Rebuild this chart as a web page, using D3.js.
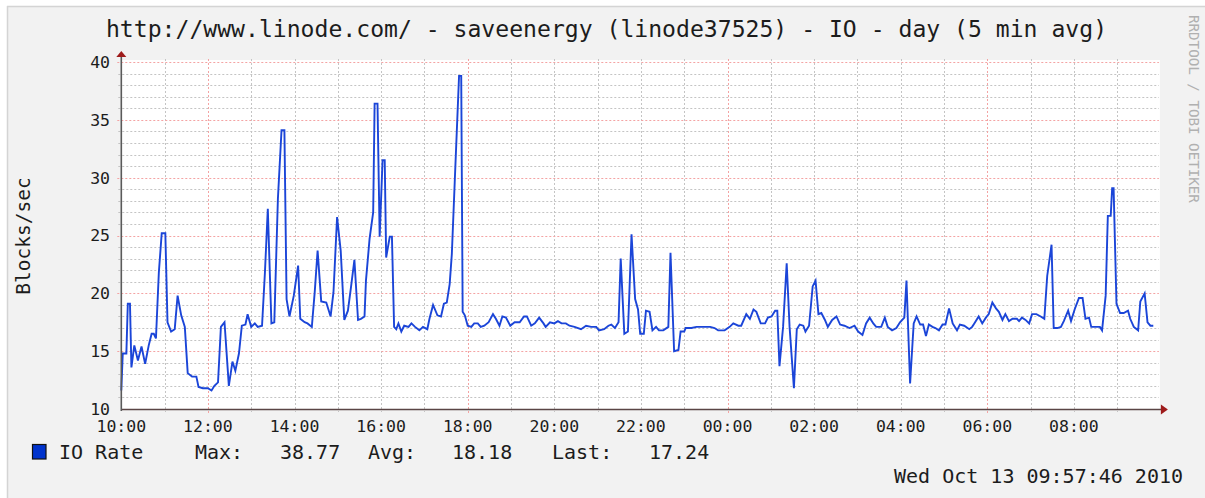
<!DOCTYPE html>
<html>
<head>
<meta charset="utf-8">
<script src="https://cdn.jsdelivr.net/npm/d3@7"></script>
<style>
  html, body { margin: 0; padding: 0; background: #ffffff; }
  svg { display: block; }
  text { font-family: "DejaVu Sans Mono", monospace; }
</style>
</head>
<body>
<svg id="chart" width="1205" height="498"></svg>
<script>
// ---------------- data ----------------
const titleText = "http://www.linode.com/ - saveenergy (linode37525) - IO - day (5 min avg)";
const yAxisTitle = "Blocks/sec";
const watermark = "RRDTOOL / TOBI OETIKER";
const seriesName = "IO Rate";
const legendStats = ["Max:", "38.77", "Avg:", "18.18", "Last:", "17.24"];
const timestampText = "Wed Oct 13 09:57:46 2010";

const yTicks = [10, 15, 20, 25, 30, 35, 40];
const xTickLabels = ["10:00","12:00","14:00","16:00","18:00","20:00","22:00","00:00","02:00","04:00","06:00","08:00"];

// minutes after 10:00 (Oct 12 2010) and IO rate values (blocks/sec)
const minutesFrom10 = [
  0,2,7,9,12,14,18,23,28,33,38,42,45,48,52,56,61,64,69,74,78,83,88,92,98,104,107,113,120,125,129,134,138,143,149,154,158,163,167,172,175,180,185,189,195,199,203,208,212,217,222,226,229,233,239,245,248,254,258,264,268,272,277,284,290,294,299,304,309,314,318,323,328,332,337,339,344,349,351,355,358,362,365,367,372,375,378,
  381,384,388,392,398,402,407,413,418,424,427,432,438,443,447,451,455,458,462,468,471,473,476,480,485,489,494,498,503,509,515,519,524,528,533,539,545,552,558,562,568,573,579,585,588,594,600,605,610,616,621,628,637,644,651,658,662,669,675,679,684,689,692,697,702,707,712,716,719,724,
  727,732,736,741,745,751,758,761,766,772,775,780,782,790,797,804,811,816,822,827,836,843,848,855,859,866,871,876,880,886,892,896,901,906,909,912,917,922,926,932,936,940,945,948,953,958,962,966,970,975,979,985,991,996,1002,1009,1016,1021,1027,1032,1037,1042,1046,1053,1058,1062,1068,1074,1079,
  1085,1088,1093,1098,1102,1107,1111,1115,1119,1124,1128,1133,1138,1142,1147,1152,1158,1162,1168,1175,1179,1182,1188,1193,1198,1202,1207,1212,1216,1221,1225,1230,1235,1241,1244,1248,1253,1258,1262,1268,1274,1279,1283,1289,1292,1297,1302,1306,1312,1316,1321,1327,1332,1336,1341,1344,1350,1356,1359,1364,1367,1371,1373,1375,1379,1384,1389,1395,1398,1403,1409,1412,1418,1422,1426,1430
];
const ioRate = [
  11.6,14.8,14.8,19.1,19.1,13.6,15.5,14.2,15.4,13.9,15.5,16.5,16.5,16.1,21.8,25.2,25.2,17.5,16.7,16.9,19.8,18.1,17.1,13.1,12.8,12.8,11.9,11.8,11.8,11.6,12.0,12.3,17.1,17.5,12.0,14.1,13.3,14.8,17.2,17.3,18.2,17.1,17.4,17.1,17.2,21.8,27.3,17.4,17.5,28.2,34.1,34.1,19.5,18.0,19.8,22.4,17.8,17.5,17.4,17.1,20.1,23.7,19.3,19.2,18.0,20.1,26.6,23.7,17.7,18.5,20.4,22.9,17.7,17.8,18.0,21.1,24.7,27.0,36.4,36.4,24.9,31.5,31.5,23.1,24.9,24.9,17.1,
  16.9,17.4,16.7,17.2,17.1,17.4,17.1,16.8,17.1,16.9,17.8,19.0,18.1,18.0,19.1,19.2,20.8,23.4,29.6,38.8,38.8,18.4,18.1,17.2,17.1,17.4,17.4,17.1,17.2,17.5,18.2,17.8,17.2,18.0,17.9,17.2,17.5,17.5,18.0,18.0,17.2,17.4,17.9,17.4,17.1,17.5,17.4,17.6,17.4,17.4,17.2,17.1,16.9,17.2,17.1,17.1,16.8,16.9,17.2,17.3,17.0,17.5,23.0,16.5,16.7,25.1,19.5,18.6,16.5,16.5,
  18.5,18.4,16.8,17.1,16.8,16.8,17.1,23.5,15.0,15.1,16.7,16.7,17.0,17.0,17.1,17.1,17.1,17.1,17.0,16.8,16.8,17.1,17.4,17.2,17.2,18.2,17.8,18.6,18.4,17.4,17.4,17.9,18.0,18.5,18.5,13.7,17.1,22.6,17.1,11.8,16.9,17.3,17.2,16.7,17.2,20.6,21.1,18.2,18.3,17.7,17.1,17.7,18.0,17.3,17.2,17.0,17.2,16.7,16.4,17.4,17.9,17.4,17.1,17.1,17.9,17.1,16.8,17.0,17.5,
  17.9,21.1,12.2,17.4,18.0,17.3,17.3,16.3,17.3,17.1,17.0,16.8,17.3,17.3,18.7,17.4,16.8,17.3,17.2,16.9,17.1,17.4,18.0,17.4,17.9,18.2,19.2,18.7,18.4,17.7,18.2,17.6,17.8,17.8,17.6,17.9,17.7,17.4,18.2,18.2,18.0,17.8,21.5,24.2,17.0,17.0,17.1,17.6,18.5,17.6,18.6,19.6,19.6,17.8,17.9,17.1,17.1,17.1,16.8,19.8,26.7,26.7,29.1,29.1,19.1,18.3,18.3,18.5,17.8,17.1,16.8,19.3,20.0,17.5,17.2,17.2
];

// ---------------- layout ----------------
const svg = d3.select("#chart");
const W = 1205, H = 498;
const plotLeft = 119.7, plotRight = 1158.9, plotTop = 62, plotBottom = 409;

const t0 = new Date(2010, 9, 12, 9, 57, 46);
const t1 = new Date(2010, 9, 13, 9, 57, 46);
const base = new Date(2010, 9, 12, 10, 0, 0);

const x = d3.scaleTime().domain([t0, t1]).range([plotLeft, plotRight]);
const y = d3.scaleLinear().domain([10, 40]).range([plotBottom, plotTop]);

// canvas background + border
svg.append("rect").attr("x", 0).attr("y", 0).attr("width", W).attr("height", H).attr("fill", "#ffffff");
svg.append("rect").attr("x", 7).attr("y", 6).attr("width", W - 7).attr("height", H - 6).attr("fill", "#f2f2f2");
svg.append("line").attr("x1", 7).attr("x2", W).attr("y1", 6.5).attr("y2", 6.5).attr("stroke", "#d4d4d4").attr("stroke-width", 1.5);
svg.append("line").attr("x1", 7.5).attr("x2", 7.5).attr("y1", 6).attr("y2", H).attr("stroke", "#d4d4d4").attr("stroke-width", 1.5);

// plot area
svg.append("rect").attr("x", x(base)).attr("y", plotTop - 2).attr("width", plotRight + 1 - x(base)).attr("height", plotBottom - plotTop + 2).attr("fill", "#ffffff");

// grid
const grid = svg.append("g");
const hourTicks = d3.timeHour.every(1).range(base, t1);
const minorVals = d3.range(11, 41, 1).filter(v => v % 5 !== 0);
const majorVals = [15, 20, 25, 30, 35, 40];

grid.selectAll(".hminor").data(minorVals).join("line")
  .attr("x1", x(base) - 3).attr("x2", plotRight)
  .attr("y1", d => Math.round(y(d)) + 0.5).attr("y2", d => Math.round(y(d)) + 0.5)
  .attr("stroke", "#c4c4c4").attr("stroke-width", 1).attr("stroke-dasharray", "2,2");
grid.selectAll(".vminor").data(hourTicks.filter(d => d.getHours() % 6 !== 0 && +d !== +base)).join("line")
  .attr("x1", d => Math.round(x(d)) + 0.5).attr("x2", d => Math.round(x(d)) + 0.5)
  .attr("y1", plotTop - 3).attr("y2", plotBottom + 3)
  .attr("stroke", "#c4c4c4").attr("stroke-width", 1).attr("stroke-dasharray", "2,2");
grid.selectAll(".hmajor").data(majorVals).join("line")
  .attr("x1", x(base) - 4).attr("x2", plotRight)
  .attr("y1", d => Math.round(y(d)) + 0.5).attr("y2", d => Math.round(y(d)) + 0.5)
  .attr("stroke", "#f4a3a3").attr("stroke-width", 1).attr("stroke-dasharray", "2,2");
grid.selectAll(".vmajor").data(hourTicks.filter(d => d.getHours() % 6 === 0)).join("line")
  .attr("x1", d => Math.round(x(d)) + 0.5).attr("x2", d => Math.round(x(d)) + 0.5)
  .attr("y1", plotTop - 3).attr("y2", plotBottom + 4)
  .attr("stroke", "#f4a3a3").attr("stroke-width", 1).attr("stroke-dasharray", "2,2");

// data line
const data = minutesFrom10.map((m, i) => ({ t: new Date(+base + m * 60000), v: ioRate[i] }));
svg.append("path").datum(data)
  .attr("fill", "none")
  .attr("stroke", "#1b45d8")
  .attr("stroke-width", 1.9)
  .attr("stroke-linejoin", "miter")
  .attr("d", d3.line().x(d => x(d.t)).y(d => y(d.v)));

// axes
const axX = x(base);
svg.append("line").attr("x1", axX).attr("x2", plotRight + 4).attr("y1", plotBottom + 0.5).attr("y2", plotBottom + 0.5)
  .attr("stroke", "#5a4545").attr("stroke-width", 1.6);
svg.append("line").attr("x1", axX).attr("x2", axX).attr("y1", plotBottom + 2).attr("y2", plotTop - 6)
  .attr("stroke", "#5a5a5a").attr("stroke-width", 1.6);
// arrows
svg.append("path").attr("d", `M${axX - 5},${plotTop - 5} L${axX + 5},${plotTop - 5} L${axX},${plotTop - 11} Z`).attr("fill", "#9e1b1b");
svg.append("path").attr("d", `M${plotRight + 2},${plotBottom - 4.5} L${plotRight + 2},${plotBottom + 5.5} L${plotRight + 9},${plotBottom + 0.5} Z`).attr("fill", "#9e1b1b");

// y tick labels
svg.selectAll(".ylab").data(yTicks).join("text")
  .attr("x", 110).attr("y", d => y(d)).attr("dy", "0.36em")
  .attr("text-anchor", "end").attr("font-size", 16.5).attr("fill", "#1c1c1c")
  .text(d => d);

// x tick labels
const labelTimes = xTickLabels.map((s, i) => new Date(+base + i * 2 * 3600000));
svg.selectAll(".xlab").data(labelTimes).join("text")
  .attr("x", d => x(d)).attr("y", 432)
  .attr("text-anchor", "middle").attr("font-size", 16.5).attr("fill", "#1c1c1c")
  .text((d, i) => xTickLabels[i]);

// title
svg.append("text").attr("x", 606.5).attr("y", 37).attr("text-anchor", "middle")
  .attr("font-size", 23.1).attr("fill", "#1c1c1c").text(titleText);

// y axis title
svg.append("text").attr("transform", "translate(30,236) rotate(-90)")
  .attr("text-anchor", "middle").attr("font-size", 19.5).attr("fill", "#1c1c1c").text(yAxisTitle);

// watermark
svg.append("text").attr("transform", "translate(1189,15) rotate(90)")
  .attr("text-anchor", "start").attr("font-size", 14.2).attr("fill", "#b0b0b0").text(watermark);

// legend
svg.append("rect").attr("x", 32.5).attr("y", 444.5).attr("width", 13.5).attr("height", 14.5)
  .attr("fill", "#0033cc").attr("stroke", "#111").attr("stroke-width", 1.2);
svg.append("text").attr("x", 59).attr("y", 459).attr("font-size", 20).attr("fill", "#1c1c1c").text(seriesName);
const statX = [195, 280, 368, 452, 552, 649];
svg.selectAll(".stat").data(legendStats).join("text")
  .attr("x", (d, i) => statX[i]).attr("y", 459).attr("font-size", 20).attr("fill", "#1c1c1c")
  .text(d => d);

// timestamp
svg.append("text").attr("x", 1183).attr("y", 483).attr("text-anchor", "end")
  .attr("font-size", 20).attr("fill", "#1c1c1c").text(timestampText);
</script>
</body>
</html>
